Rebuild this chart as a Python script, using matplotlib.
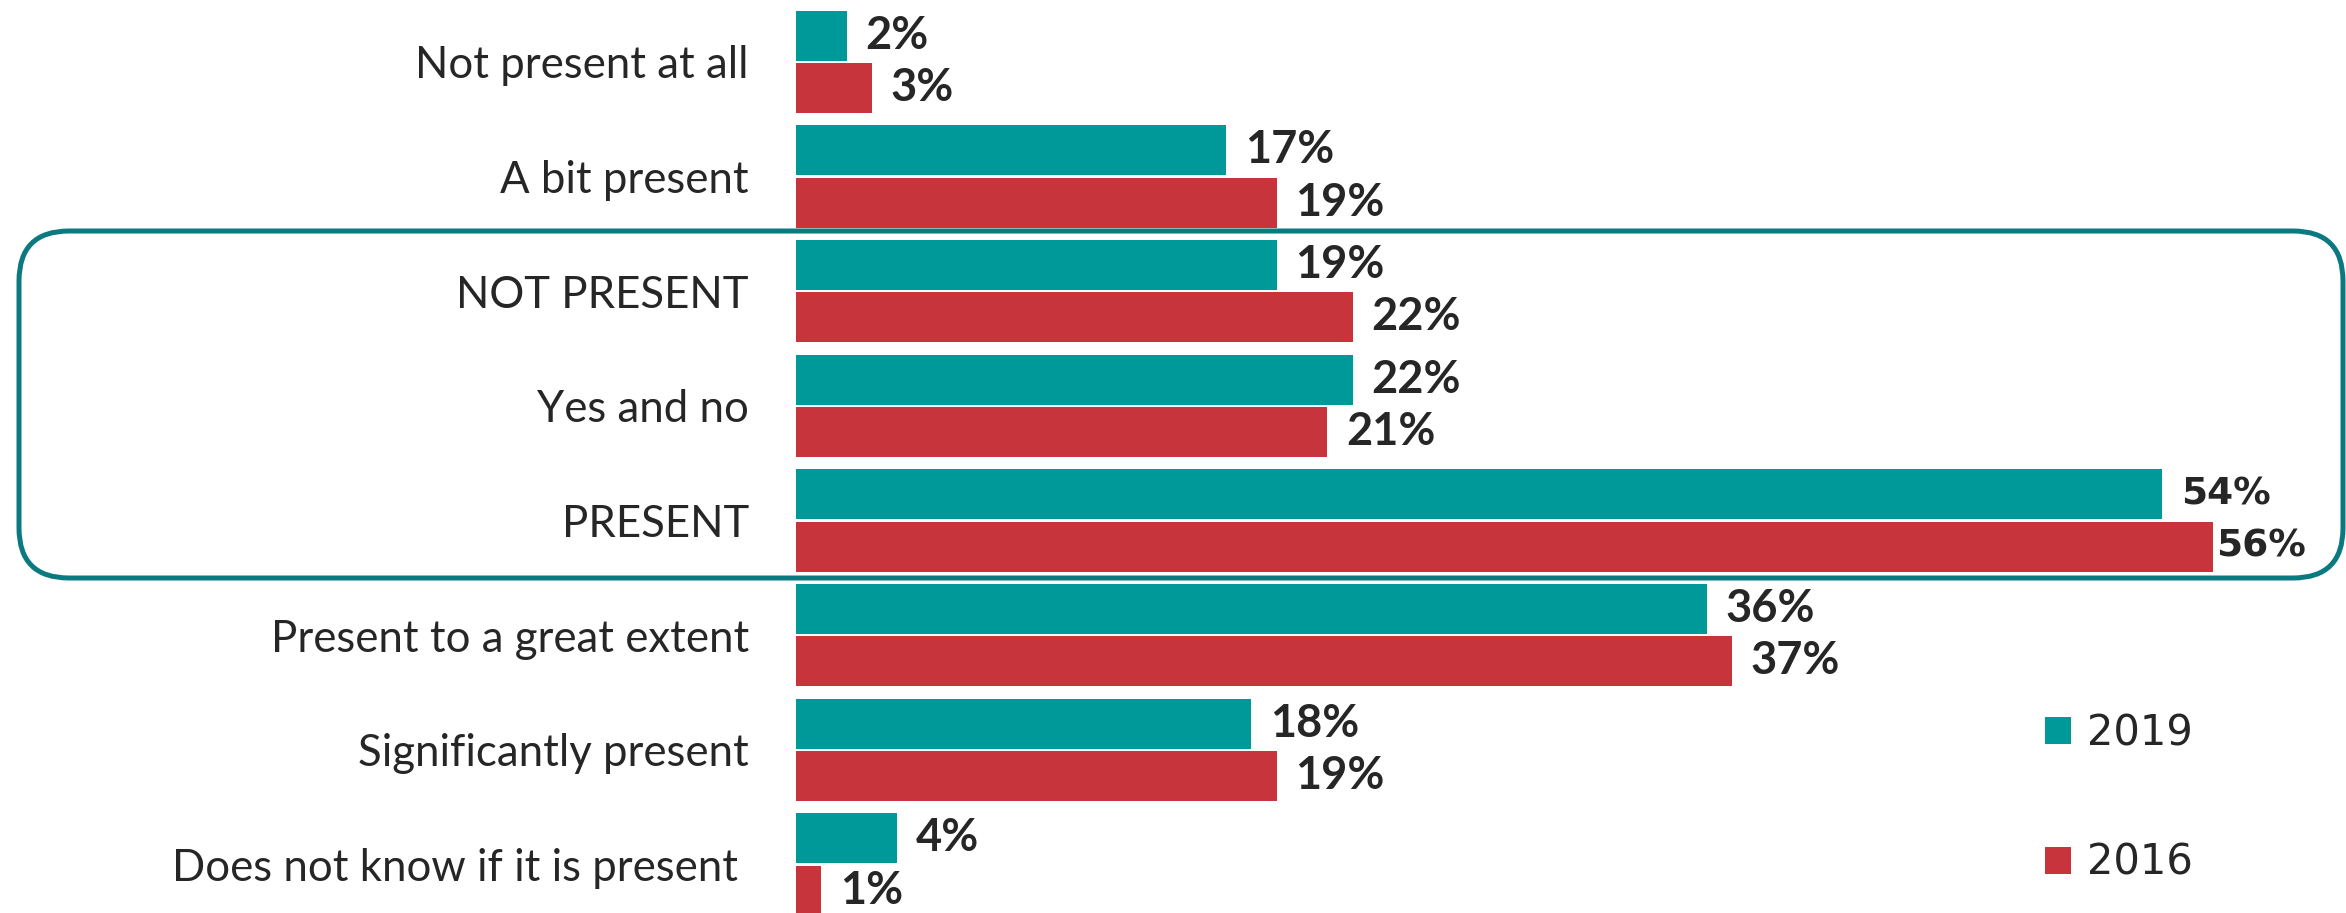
import matplotlib.pyplot as plt
from matplotlib.patches import FancyBboxPatch
from matplotlib.transforms import IdentityTransform

# Data
categories = [
    'Not present at all',
    'A bit present',
    'NOT PRESENT',
    'Yes and no',
    'PRESENT',
    'Present to a great extent',
    'Significantly present',
    'Does not know if it is present ',
]
values_2019 = [2, 17, 19, 22, 54, 36, 18, 4]
values_2016 = [3, 19, 22, 21, 56, 37, 19, 1]
series_names = ['2019', '2016']

TEAL = '#009999'
RED = '#C8343C'
BOX = '#0A7A80'
TEXT = '#262626'

W, H = 2346, 913
fig = plt.figure(figsize=(W / 100, H / 100), dpi=100)
ax = fig.add_axes([796 / W, 0, 1550 / W, 1])

y = list(range(len(categories)))
bh = 0.436
off = 0.228
bars19 = ax.barh([i - off for i in y], values_2019, height=bh, color=TEAL, label=series_names[0])
bars16 = ax.barh([i + off for i in y], values_2016, height=bh, color=RED, label=series_names[1])

ax.set_xlim(0, 1550 / 25.3)
ax.set_ylim(7 + (913 - 864.5) / 114.7, -61.7 / 114.7)

# value labels
for bars, vals in [(bars19, values_2019), (bars16, values_2016)]:
    for b, v in zip(bars, vals):
        cy = b.get_y() + b.get_height() / 2
        if v >= 50:
            # the two big ones use another font in the original
            pad = 2 if v == max(values_2016) else 13.5
            ax.annotate(f'{v}%', (v, cy), xytext=(pad, 0), textcoords='offset points',
                        va='center', ha='left', fontsize=27, fontweight='bold',
                        family='DejaVu Sans', color=TEXT, annotation_clip=False)
        else:
            ax.annotate(f'{v}%', (v, cy), xytext=(13.5, 0), textcoords='offset points',
                        va='center', ha='left', fontsize=32.5, fontweight='bold',
                        family='Lato', color=TEXT, annotation_clip=False)

# category labels
ax.set_yticks(y)
ax.set_yticklabels(categories, fontsize=31.5, family='Lato', color=TEXT)
ax.tick_params(axis='y', length=0, pad=34)
ax.set_xticks([])
for s in ax.spines.values():
    s.set_visible(False)

# rounded box around the middle group
box = FancyBboxPatch((19, H - 578), 2343 - 19, 578 - 231,
                     boxstyle='round,pad=0,rounding_size=50',
                     transform=IdentityTransform(), fill=False,
                     edgecolor=BOX, linewidth=3.6, clip_on=False)
fig.add_artist(box)

leg = fig.legend(handles=[bars19, bars16], loc='center left',
                 bbox_to_anchor=(2045 / W, 1 - 798 / H), frameon=False,
                 prop={'family': 'DejaVu Sans', 'size': 30},
                 handlelength=0.62, handleheight=0.62, handletextpad=0.4,
                 labelspacing=2.1, borderpad=0, borderaxespad=0)
for t in leg.get_texts():
    t.set_color(TEXT)

plt.savefig('out.png', dpi=100)
